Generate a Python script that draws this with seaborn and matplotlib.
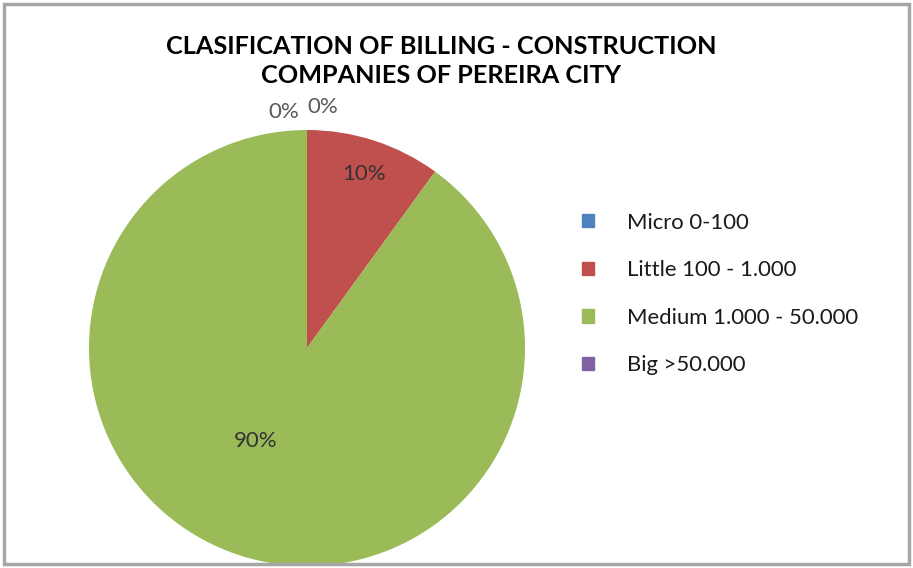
import numpy as np
import matplotlib
matplotlib.use('Agg')
import matplotlib.pyplot as plt
import seaborn as sns
from matplotlib.patches import Rectangle

categories = ['Micro 0-100', 'Little 100 - 1.000', 'Medium 1.000 - 50.000', 'Big >50.000']
shares = [0, 10, 90, 0]
colors = ['#4F81BD', '#C0504D', '#9BBB59', '#8064A2']
title = 'CLASIFICATION OF BILLING - CONSTRUCTION\nCOMPANIES OF PEREIRA CITY'

sns.set_theme(style='white')
plt.rcParams['font.family'] = ['Lato', 'DejaVu Sans']

fig = plt.figure(figsize=(9.13, 5.68), dpi=100)
ax = fig.add_axes([89 / 913, 2 / 568, 436 / 913, 436 / 568])

wedges, _ = ax.pie(shares, colors=colors, startangle=90, counterclock=False,
                   radius=1, wedgeprops=dict(linewidth=0))
ax.set_xlim(-1, 1)
ax.set_ylim(-1, 1)
ax.set_aspect('equal')

# percentage labels placed like the Excel original
label_r = [1.11, 0.84, 0.49, 1.09]
label_shift = [3.8, 0, 11, -5.6]  # degrees, to keep the zero labels apart
label_col = ['#595959', '#333333', '#333333', '#595959']
for w, val, r, sh, c in zip(wedges, shares, label_r, label_shift, label_col):
    mid = np.deg2rad((w.theta1 + w.theta2) / 2 - sh)
    ax.text(r * np.cos(mid), r * np.sin(mid), f'{val}%', ha='center', va='center',
            fontsize=16, color=c, clip_on=False)

fig.text(441 / 913, 1 - 61 / 568, title, ha='center', va='center',
         fontsize=18.2, fontweight='bold', color='#000000', linespacing=1.3)

handles = [Rectangle((0, 0), 1, 1, color=c) for c in colors]
leg = fig.legend(handles, categories, loc='center left', bbox_to_anchor=(562 / 913, 1 - 294 / 568),
                 frameon=False, fontsize=15.9, handlelength=0.55, handleheight=0.55,
                 labelspacing=1.25, handletextpad=1.5)
for t in leg.get_texts():
    t.set_color('#1a1a1a')

fig.patches.append(Rectangle((4 / 913, 4 / 568), 905 / 913, 560 / 568, transform=fig.transFigure,
                             fill=False, edgecolor='#a6a6a6', linewidth=2.5))

fig.savefig('out.png', dpi=100)
